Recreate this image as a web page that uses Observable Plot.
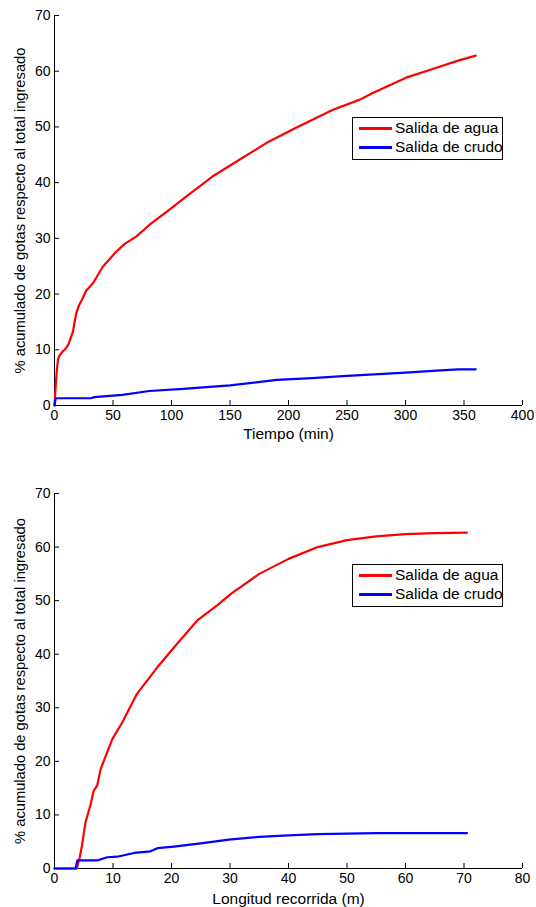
<!DOCTYPE html>
<html>
<head>
<meta charset="utf-8">
<script src="https://cdn.jsdelivr.net/npm/d3@7"></script>
<script src="https://cdn.jsdelivr.net/npm/@observablehq/plot@0.6"></script>
<style>
  body { margin: 0; background: #fff; font-family: "Liberation Sans", Arial, sans-serif; }
  #wrap { position: relative; width: 536px; height: 907px; overflow: hidden; }
  .panel { position: absolute; left: 0; }
  .legend { position: absolute; box-sizing: border-box; border: 1px solid #000; background: #fff; width: 151px; height: 43px; }
  .legend .sw { position: absolute; left: 6px; width: 33px; height: 3px; }
  .legend .lb { position: absolute; left: 42px; font-size: 15.5px; line-height: 18px; color: #000; white-space: nowrap; }
</style>
</head>
<body>
<div id="wrap"></div>
<script>
// Tiempo (min) vs % acumulado — salida de agua
const tiempoAgua = [0, 1, 2, 3, 4.3, 7, 9.4, 12, 15.7, 18.5, 21, 24, 27, 32.7, 41.3, 52.7, 60, 69.8, 81, 98, 112.5, 135, 158, 181, 206, 238, 261, 272, 300, 329, 345, 360];
const pctAguaTiempo = [0, 3.5, 6.3, 8.3, 9.0, 9.7, 10.2, 11, 13.2, 16.5, 18, 19.2, 20.6, 21.9, 24.9, 27.6, 29, 30.3, 32.4, 35.1, 37.5, 41.1, 44.1, 47.1, 49.8, 53.1, 54.9, 56.1, 58.8, 60.8, 61.9, 62.8];
// Tiempo (min) vs % acumulado — salida de crudo
const tiempoCrudo = [0, 1, 31, 34, 58, 81, 110, 124, 150, 190, 220, 250, 300, 330, 345, 360];
const pctCrudoTiempo = [0, 1.3, 1.3, 1.5, 1.9, 2.6, 3.0, 3.2, 3.6, 4.6, 4.9, 5.3, 5.9, 6.3, 6.5, 6.5];

// Longitud recorrida (m) vs % acumulado — salida de agua
const longitudAgua = [0, 3.8, 4.3, 4.7, 5.0, 5.3, 6.2, 6.7, 7.3, 7.9, 9.9, 11.6, 14.1, 17.6, 21, 24.4, 27.8, 30.1, 35, 40, 45, 50, 55, 60, 65, 70.5];
const pctAguaLongitud = [0, 0, 2, 4.3, 6.5, 8.6, 12.1, 14.5, 15.5, 18.6, 24.2, 27.3, 32.6, 37.6, 42, 46.3, 49.1, 51.2, 55, 57.8, 60, 61.3, 62, 62.4, 62.6, 62.7];
// Longitud recorrida (m) vs % acumulado — salida de crudo
const longitudCrudo = [0, 3.6, 3.9, 7.3, 9.0, 10.7, 13.6, 16.4, 17.6, 20.4, 25, 29.8, 35, 40, 45, 50, 55, 70.5];
const pctCrudoLongitud = [0, 0, 1.5, 1.5, 2.1, 2.2, 2.9, 3.2, 3.8, 4.1, 4.7, 5.4, 5.9, 6.2, 6.4, 6.5, 6.6, 6.6];

const ticksTiempo = [0, 50, 100, 150, 200, 250, 300, 350, 400];
const ticksLongitud = [0, 10, 20, 30, 40, 50, 60, 70, 80];
const ticksPct = [0, 10, 20, 30, 40, 50, 60, 70];

const serieNombres = ["Salida de agua", "Salida de crudo"];
const serieColores = ["#ff0000", "#0000ff"];
const yLabel = "% acumulado de gotas respecto al total ingresado";

const toRows = (xs, ys) => xs.map((x, i) => ({x, y: ys[i]}));

function panel({xDomain, xTicks, xLabel, height, marginTop, marginBottom, xLabelDy, agua, crudo}) {
  return Plot.plot({
    width: 536,
    height,
    marginTop,
    marginBottom,
    marginLeft: 54,
    marginRight: 14,
    style: {fontFamily: '"Liberation Sans", Arial, sans-serif', fontSize: "14px", color: "#000", background: "transparent", overflow: "visible"},
    x: {domain: xDomain},
    y: {domain: [0, 70]},
    marks: [
      // inward tick marks
      Plot.axisX(xTicks, {anchor: "bottom", tickSize: 5, dy: -5, tickFormat: () => "", label: null, stroke: "#000"}),
      Plot.axisY(ticksPct, {anchor: "left", tickSize: 5, dx: 5, tickFormat: () => "", label: null, stroke: "#000"}),
      // tick labels
      Plot.axisX(xTicks, {anchor: "bottom", tickSize: 0, tickPadding: 5, fontSize: 14, label: null}),
      Plot.axisY(ticksPct, {anchor: "left", tickSize: 0, tickPadding: 4, fontSize: 14, label: null}),
      // axis titles
      Plot.text([xLabel], {frameAnchor: "bottom", dy: xLabelDy, textAnchor: "middle", lineAnchor: "middle", fontSize: 15.5, fill: "#000"}),
      Plot.text([yLabel], {frameAnchor: "left", rotate: -90, dx: -34, textAnchor: "middle", lineAnchor: "middle", fontSize: 14.7, fill: "#000"}),
      // axis lines
      Plot.ruleX([xDomain[0]], {stroke: "#000", strokeWidth: 1}),
      Plot.ruleY([0], {stroke: "#000", strokeWidth: 1}),
      Plot.line(agua, {x: "x", y: "y", stroke: serieColores[0], strokeWidth: 2.2}),
      Plot.line(crudo, {x: "x", y: "y", stroke: serieColores[1], strokeWidth: 2.2})
    ]
  });
}

function legend(left, top) {
  const el = document.createElement("div");
  el.className = "legend";
  el.style.left = left + "px";
  el.style.top = top + "px";
  serieNombres.forEach((name, i) => {
    const cy = 10 + i * 19;
    const sw = document.createElement("div");
    sw.className = "sw";
    sw.style.top = (cy - 1.5) + "px";
    sw.style.background = serieColores[i];
    const lb = document.createElement("div");
    lb.className = "lb";
    lb.style.top = (cy - 9) + "px";
    lb.textContent = name;
    el.append(sw, lb);
  });
  return el;
}

const wrap = document.getElementById("wrap");

const top1 = panel({
  xDomain: [0, 400], xTicks: ticksTiempo, xLabel: "Tiempo (min)",
  height: 445, marginTop: 15, marginBottom: 40, xLabelDy: 29,
  agua: toRows(tiempoAgua, pctAguaTiempo), crudo: toRows(tiempoCrudo, pctCrudoTiempo)
});
top1.classList.add("panel");
top1.style.top = "0px";

const bottom1 = panel({
  xDomain: [0, 80], xTicks: ticksLongitud, xLabel: "Longitud recorrida (m)",
  height: 462, marginTop: 48, marginBottom: 39, xLabelDy: 31,
  agua: toRows(longitudAgua, pctAguaLongitud), crudo: toRows(longitudCrudo, pctCrudoLongitud)
});
bottom1.classList.add("panel");
bottom1.style.top = "445px";

wrap.append(top1, bottom1, legend(352, 117), legend(352, 564));
</script>
</body>
</html>
